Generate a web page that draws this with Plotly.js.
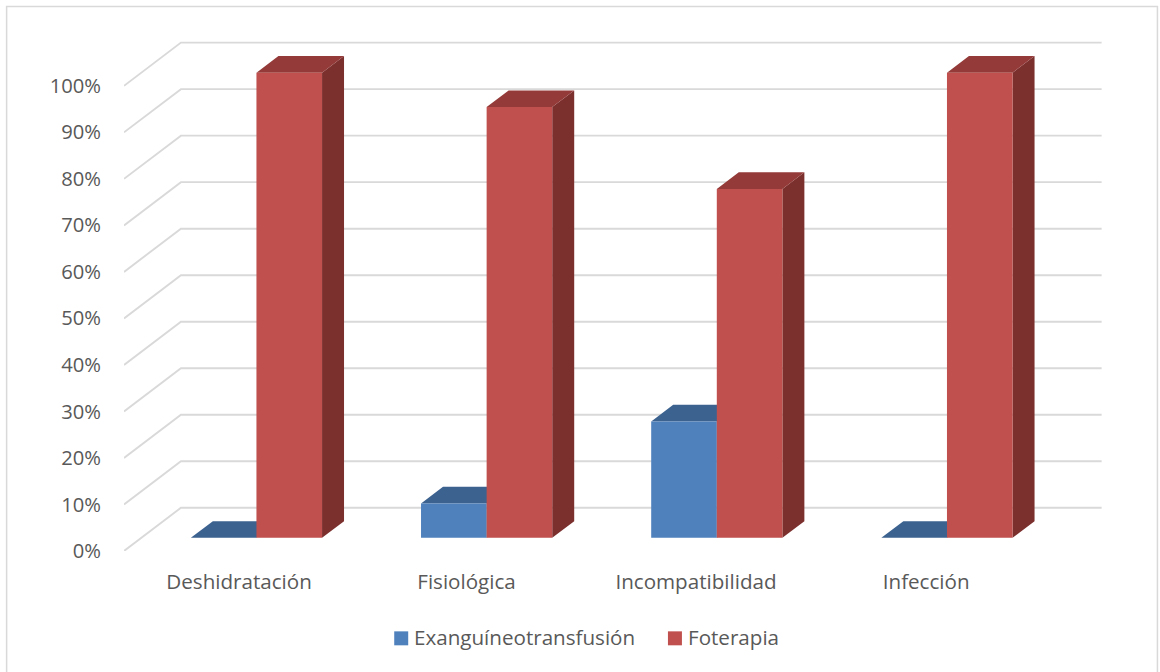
<!DOCTYPE html>
<html lang="es">
<head>
<meta charset="utf-8">
<title>Tratamiento por causa</title>
<script src="https://cdn.plot.ly/plotly-3.0.1.min.js"></script>
<style>
  html, body { margin: 0; padding: 0; background: #ffffff; overflow: hidden; }
</style>
</head>
<body>
<div id="chart" style="width:1160px;height:672px"></div>
<script>
// Series values, in percent
const categories = ["Deshidratación", "Fisiológica", "Incompatibilidad", "Infección"];
const exanguineo = [0, 7.4, 25, 0];
const foterapia = [100, 92.6, 75, 100];
const seriesNames = ["Exanguíneotransfusión", "Foterapia"];
const gridValues = [0, 10, 20, 30, 40, 50, 60, 70, 80, 90, 100];
const gridLabels = ["0%", "10%", "20%", "30%", "40%", "50%", "60%", "70%", "80%", "90%", "100%"];

// Oblique projection: how far a point at full depth shifts on each axis
const DEPTH_X = 0.2474;
const DEPTH_Y = 9.29;
const BAR_WIDTH = 0.285;
const BAR_NEAR = 0.305;
const BAR_FAR = 0.691;
const X_START = -0.5;
const X_END = 3.5;

const project = (x, y, d) => [x + d * DEPTH_X, y + d * DEPTH_Y];

// Collects polygons into one fillable path, separated by gaps
function polygons(list) {
  const xs = [], ys = [];
  list.forEach(poly => {
    poly.forEach(p => { xs.push(p[0]); ys.push(p[1]); });
    xs.push(poly[0][0]); ys.push(poly[0][1]);
    xs.push(null); ys.push(null);
  });
  return { x: xs, y: ys };
}

function faceTrace(path, color, name) {
  return {
    type: "scatter", mode: "lines", x: path.x, y: path.y,
    fill: "toself", fillcolor: color,
    line: { width: 0, color: color },
    hoverinfo: "skip", showlegend: false, name: name
  };
}

// Front, top and side faces for one series of the grouped bars
function barFaces(values, offset, colors, name) {
  const front = [], top = [], side = [];
  values.forEach((v, i) => {
    const x0 = i + offset, x1 = x0 + BAR_WIDTH;
    front.push([project(x0, 0, BAR_NEAR), project(x1, 0, BAR_NEAR), project(x1, v, BAR_NEAR), project(x0, v, BAR_NEAR)]);
    top.push([project(x0, v, BAR_NEAR), project(x1, v, BAR_NEAR), project(x1, v, BAR_FAR), project(x0, v, BAR_FAR)]);
    side.push([project(x1, 0, BAR_NEAR), project(x1, 0, BAR_FAR), project(x1, v, BAR_FAR), project(x1, v, BAR_NEAR)]);
  });
  return [
    faceTrace(polygons(side), colors.side, name + " lateral"),
    faceTrace(polygons(top), colors.top, name + " superior"),
    faceTrace(polygons(front), colors.front, name)
  ];
}

// Gridlines run along the side wall, then along the back wall
const gridX = [], gridY = [];
gridValues.forEach(v => {
  const a = project(X_START, v, 0), b = project(X_START, v, 1), c = project(X_END, v, 1);
  gridX.push(a[0], b[0], c[0], null);
  gridY.push(a[1], b[1], c[1], null);
});
const gridTrace = {
  type: "scatter", mode: "lines", x: gridX, y: gridY,
  line: { color: "#d9d9d9", width: 1.9 },
  hoverinfo: "skip", showlegend: false, name: "cuadrícula"
};

const blue = { front: "#4f81bd", top: "#3c6290", side: "#2f4d72" };
const red = { front: "#c0504d", top: "#943b39", side: "#7c302e" };

const traces = [gridTrace]
  .concat(barFaces(exanguineo, -BAR_WIDTH, blue, seriesNames[0]))
  .concat(barFaces(foterapia, 0, red, seriesNames[1]));

// Plot rectangle in page pixels, used to place the frame and the key
const W = 1160, H = 672;
const M = { l: 123.5, r: 57.5, t: 29.5, b: 120.5 };
const px = v => (v - M.l) / (W - M.l - M.r);
const py = v => (H - M.b - v) / (H - M.t - M.b);

const textColor = "#595959";
const fontFamily = '"Open Sans", sans-serif';
const labelSize = 20.6;

const swatch = (x, color) => ({
  type: "rect", xref: "paper", yref: "paper",
  x0: px(x), x1: px(x + 14), y0: py(646), y1: py(632),
  fillcolor: color, line: { width: 0 }
});
const keyLabel = (x, text) => ({
  xref: "paper", yref: "paper", x: px(x), y: py(638),
  xanchor: "left", yanchor: "middle", showarrow: false, text: text,
  borderpad: 0, font: { family: fontFamily, size: labelSize, color: textColor }
});

const layout = {
  width: W, height: H, autosize: false, margin: M,
  paper_bgcolor: "#ffffff", plot_bgcolor: "rgba(0,0,0,0)",
  showlegend: false,
  font: { family: fontFamily, size: labelSize, color: textColor },
  xaxis: {
    range: [X_START, 3.749], showgrid: false, zeroline: false, showline: false,
    tickmode: "array", tickvals: [0, 0.988, 1.985, 2.985], ticktext: categories,
    ticks: "", ticklabelstandoff: 16, fixedrange: true
  },
  yaxis: {
    range: [0, 112], showgrid: false, zeroline: false, showline: false,
    tickmode: "array", tickvals: gridValues, ticktext: gridLabels,
    tickfont: { family: fontFamily, size: 20.2, color: textColor },
    ticks: "", ticklabelstandoff: 22, fixedrange: true
  },
  shapes: [
    {
      type: "rect", xref: "paper", yref: "paper", layer: "below",
      x0: px(6), x1: px(1158), y0: py(700), y1: py(6),
      line: { color: "#d9d9d9", width: 1.5 }, fillcolor: "rgba(0,0,0,0)"
    },
    swatch(394, blue.front),
    swatch(668, red.front)
  ],
  annotations: [
    keyLabel(413, seriesNames[0]),
    keyLabel(687, seriesNames[1])
  ]
};

Plotly.newPlot("chart", traces, layout, { displayModeBar: false, staticPlot: true });
</script>
</body>
</html>
